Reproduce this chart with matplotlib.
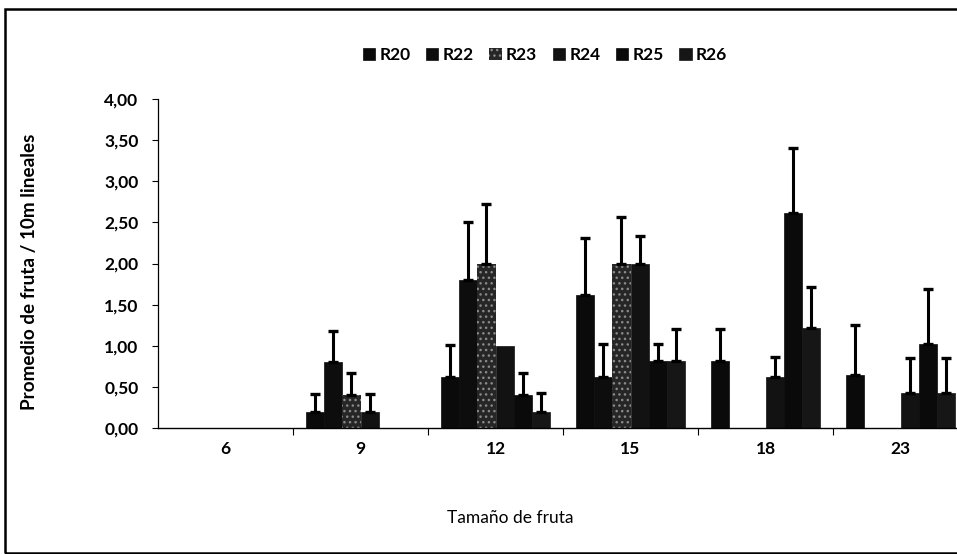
import matplotlib
matplotlib.use("Agg")
import matplotlib.pyplot as plt
import numpy as np
from matplotlib.patches import Rectangle, Patch

categories = ['6', '9', '12', '15', '18', '23']
series_names = ['R20', 'R22', 'R23', 'R24', 'R25', 'R26']

R20 = [0.00, 0.20, 0.62, 1.62, 0.82, 0.64]
R22 = [0.00, 0.80, 1.80, 0.62, 0.00, 0.00]
R23 = [0.00, 0.40, 2.00, 2.00, 0.00, 0.00]
R24 = [0.00, 0.20, 1.00, 2.00, 0.62, 0.42]
R25 = [0.00, 0.00, 0.40, 0.82, 2.62, 1.02]
R26 = [0.00, 0.00, 0.20, 0.82, 1.22, 0.42]

R20_err = [0.00, 0.21, 0.39, 0.69, 0.38, 0.61]
R22_err = [0.00, 0.38, 0.70, 0.40, 0.00, 0.00]
R23_err = [0.00, 0.27, 0.72, 0.57, 0.00, 0.00]
R24_err = [0.00, 0.21, 0.00, 0.34, 0.24, 0.43]
R25_err = [0.00, 0.00, 0.27, 0.20, 0.78, 0.67]
R26_err = [0.00, 0.00, 0.22, 0.38, 0.50, 0.43]

yticks = [0, 0.5, 1.0, 1.5, 2.0, 2.5, 3.0, 3.5, 4.0]
ytick_labels = ['0,00', '0,50', '1,00', '1,50', '2,00', '2,50', '3,00', '3,50', '4,00']

values = [R20, R22, R23, R24, R25, R26]
errors = [R20_err, R22_err, R23_err, R24_err, R25_err, R26_err]
colors = ['#0a0a0a', '#0d0d0d', '#262626', '#121212', '#0a0a0a', '#161616']
edges = ['#0a0a0a', '#0d0d0d', '#8a8a8a', '#121212', '#0a0a0a', '#161616']
hatches = [None, None, '...', None, None, None]

plt.rcParams['font.family'] = ['Lato', 'DejaVu Sans']

W, H = 957, 554
fig = plt.figure(figsize=(W / 100, H / 100), dpi=100)
fig.patch.set_facecolor('white')

# outer frame
fig.patches.append(Rectangle((5 / W, 1 / H), 1.2, (H - 10) / H, transform=fig.transFigure,
                             fill=False, edgecolor='black', linewidth=1.8))

left_px, top_px, bottom_px = 158, 99, 428
cat_px = 135
ax = fig.add_axes([left_px / W, (H - bottom_px) / H, cat_px * 6 / W, (bottom_px - top_px) / H])

x = np.arange(len(categories))
bw = 0.135
for i, (name, vals, errs) in enumerate(zip(series_names, values, errors)):
    xpos = x + (i - 2.5) * bw
    vals = np.array(vals)
    errs = np.array(errs)
    ax.bar(xpos, vals, width=bw, color=colors[i], edgecolor=edges[i],
           linewidth=0 if hatches[i] else 0.5, hatch=hatches[i], label=name, zorder=2)
    m = errs > 0
    if m.any():
        ax.errorbar(xpos[m], vals[m], yerr=[np.zeros(m.sum()), errs[m]], fmt='none',
                    ecolor='black', elinewidth=2.2, capsize=3.5, capthick=2.4, zorder=3)

ax.set_xlim(-0.5, 5.5)
ax.set_ylim(0, 4.0)
ax.set_yticks(yticks)
ax.set_yticklabels(ytick_labels, fontsize=12.5, fontweight='bold')
ax.set_xticks(x)
ax.set_xticklabels(categories, fontsize=12.5, fontweight='bold')
ax.set_xticks(np.arange(0.5, 5.5, 1), minor=True)
ax.tick_params(axis='x', which='major', length=0, pad=9)
ax.tick_params(axis='x', which='minor', length=5, direction='out', width=0.8)
ax.tick_params(axis='y', length=4, width=0.8, pad=10)
for s in ['top', 'right']:
    ax.spines[s].set_visible(False)
ax.spines['left'].set_linewidth(0.9)
ax.spines['bottom'].set_linewidth(1.0)

fig.text(30 / W, 1 - 272 / H, 'Promedio de fruta / 10m lineales', rotation=90,
         ha='center', va='center', fontsize=13.6, fontweight='bold')
fig.text(510 / W, 1 - 518 / H, 'Tamaño de fruta', ha='center', va='center', fontsize=12.5)

handles = [Patch(facecolor=colors[i], edgecolor=edges[i], hatch=hatches[i],
                 linewidth=0 if hatches[i] else 0.5) for i in range(6)]
fig.legend(handles, series_names, loc='center', bbox_to_anchor=(545 / W, 1 - 55 / H), ncol=6,
           frameon=False, handlelength=0.7, handleheight=0.7, handletextpad=0.25,
           columnspacing=0.9, prop={'size': 12.5, 'weight': 'bold'})

fig.savefig('out.png', dpi=100)
